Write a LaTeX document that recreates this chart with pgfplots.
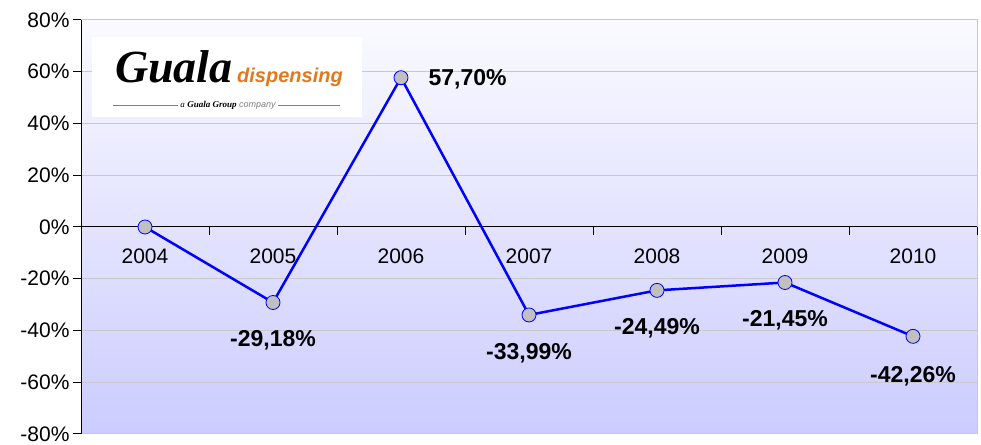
\documentclass[border=0pt]{standalone}
\usepackage{pgfplots}
\pgfplotsset{compat=1.18}
\usepackage{fontspec}
\setmainfont{Liberation Sans}
\newfontfamily\logoserif{Liberation Serif}
\definecolor{gridgray}{RGB}{200,200,200}
\definecolor{markgray}{RGB}{192,192,192}
\definecolor{bgtop}{RGB}{250,250,255}
\definecolor{bgbot}{RGB}{204,204,255}
\definecolor{guaorange}{RGB}{226,120,30}
\begin{document}
\begin{tikzpicture}
\begin{axis}[
  name=a,
  scale only axis,
  width=896pt, height=414pt,
  xmin=-0.5, xmax=6.5,
  ymin=-80, ymax=80,
  axis x line=middle,
  axis y line=left,
  axis line style={-, black, line width=1pt},
  axis background/.style={top color=bgtop, bottom color=bgbot, draw=gridgray, line width=1pt},
  xtick={0.5,1.5,2.5,3.5,4.5,5.5,6.5},
  xticklabels={},
  extra x ticks={0,1,2,3,4,5,6},
  extra x tick labels={2004,2005,2006,2007,2008,2009,2010},
  extra x tick style={tick style={draw=none}, xticklabel style={yshift=-10pt}},
  major tick length=8pt,
  tick align=outside,
  tick style={black, line width=1pt},
  ytick={-80,-60,-40,-20,0,20,40,60,80},
  yticklabel={\pgfmathprintnumber{\tick}\%\hspace{7pt}},
  /pgf/number format/assume math mode=true,
  ymajorgrids,
  grid style={gridgray, line width=1pt},
  tick label style={font=\fontsize{21}{25}\selectfont, black},
  clip=false,
]
\pgfplotsinvokeforeach{-80,-60,-40,-20,0,20,40,60,80}{
  \draw[black, line width=1pt] (axis cs:-0.5,#1) -- ([xshift=-8pt]axis cs:-0.5,#1);
}
\addplot[blue, line width=2.5pt, mark=*, mark size=7pt,
  mark options={fill=markgray, draw=blue, line width=0.8pt}]
  coordinates {(0,0) (1,-29.18) (2,57.70) (3,-33.99) (4,-24.49) (5,-21.45) (6,-42.26)};
\begin{scope}[every node/.style={font=\fontsize{23}{27}\selectfont\bfseries}]
\node[yshift=-38pt] at (axis cs:1,-29.18) {-29,18\%};
\node[anchor=west, xshift=24pt, yshift=-2pt] at (axis cs:2,57.70) {57,70\%};
\node[yshift=-38pt] at (axis cs:3,-33.99) {-33,99\%};
\node[yshift=-38pt] at (axis cs:4,-24.49) {-24,49\%};
\node[yshift=-38pt] at (axis cs:5,-21.45) {-21,45\%};
\node[yshift=-40pt] at (axis cs:6,-42.26) {-42,26\%};
\end{scope}
\end{axis}
% logo
\fill[white] ([shift={(11pt,-17pt)}]a.north west) rectangle ([shift={(281pt,-97pt)}]a.north west);
\node[anchor=base west, inner sep=0pt, font=\logoserif\fontsize{46}{50}\selectfont\bfseries\itshape]
  at ([shift={(34pt,-63pt)}]a.north west) {Guala};
\node[anchor=base west, inner sep=0pt, text=guaorange, font=\fontsize{20}{24}\selectfont\bfseries\itshape]
  at ([shift={(156pt,-63pt)}]a.north west) {dispensing};
\draw[gray, line width=0.5pt] ([shift={(32pt,-85pt)}]a.north west) -- ([shift={(259pt,-85pt)}]a.north west);
\node[fill=white, inner sep=2pt, font=\fontsize{9}{10}\selectfont]
  at ([shift={(147pt,-85pt)}]a.north west) {{\logoserif\itshape a} {\logoserif\bfseries\itshape Guala Group} {\color{gray}\itshape company}};
\pgfresetboundingbox
\path[use as bounding box] ([shift={(-81pt,-11pt)}]a.south west) rectangle ([shift={(4pt,20pt)}]a.north east);
\end{tikzpicture}
\end{document}
